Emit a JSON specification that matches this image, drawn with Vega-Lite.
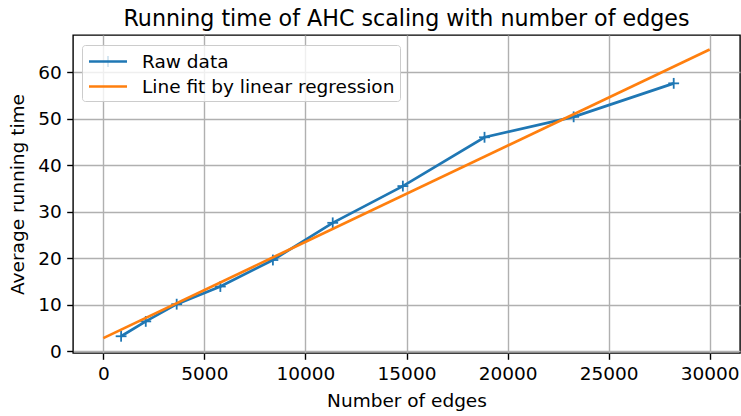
{
  "$schema": "https://vega.github.io/schema/vega-lite/v6.json",
  "width": 667,
  "height": 318,
  "autosize": {"type": "none"},
  "padding": {"left": 73, "top": 35, "right": 1, "bottom": 63},
  "background": "white",
  "title": {
    "text": "Running time of AHC scaling with number of edges",
    "font": "DejaVu Sans",
    "fontSize": 22.2,
    "fontWeight": "normal",
    "color": "black",
    "anchor": "middle",
    "offset": 5
  },
  "config": {
    "view": {"stroke": "black", "strokeWidth": 1.4},
    "axis": {
      "labelFont": "DejaVu Sans",
      "labelFontSize": 18.5,
      "labelColor": "black",
      "titleFont": "DejaVu Sans",
      "titleFontSize": 18.5,
      "titleFontWeight": "normal",
      "titleColor": "black",
      "domain": false,
      "tickColor": "black",
      "tickWidth": 1.4,
      "tickSize": 6.3,
      "labelPadding": 5.5,
      "gridColor": "#b0b0b0",
      "gridWidth": 1.4,
      "gridOpacity": 1
    },
    "legend": {
      "labelFont": "DejaVu Sans",
      "labelFontSize": 18.5,
      "labelColor": "black",
      "labelLimit": 500
    }
  },
  "data": {
    "values": [
      {"series": "Raw data", "edges": 880, "time": 3.2},
      {"series": "Raw data", "edges": 2100, "time": 6.4},
      {"series": "Raw data", "edges": 3630, "time": 10.1},
      {"series": "Raw data", "edges": 5790, "time": 13.9},
      {"series": "Raw data", "edges": 8390, "time": 19.6},
      {"series": "Raw data", "edges": 11350, "time": 27.6},
      {"series": "Raw data", "edges": 14820, "time": 35.5},
      {"series": "Raw data", "edges": 18860, "time": 46.0},
      {"series": "Raw data", "edges": 23270, "time": 50.4},
      {"series": "Raw data", "edges": 28220, "time": 57.6},
      {"series": "Line fit by linear regression", "edges": 0, "time": 2.8},
      {"series": "Line fit by linear regression", "edges": 30000, "time": 64.9}
    ]
  },
  "encoding": {
    "x": {
      "field": "edges",
      "type": "quantitative",
      "title": "Number of edges",
      "scale": {"domain": [-1500, 31500], "nice": false, "zero": false},
      "axis": {"values": [0, 5000, 10000, 15000, 20000, 25000, 30000], "format": "d", "titlePadding": 8}
    },
    "y": {
      "field": "time",
      "type": "quantitative",
      "title": "Average running time",
      "scale": {"domain": [-0.4, 68.0], "nice": false, "zero": false},
      "axis": {"values": [0, 10, 20, 30, 40, 50, 60], "titlePadding": 10}
    }
  },
  "layer": [
    {
      "transform": [{"filter": "datum.series === 'Raw data'"}],
      "mark": {"type": "line", "strokeWidth": 2.7, "color": "#1f77b4"},
      "encoding": {}
    },
    {
      "transform": [{"filter": "datum.series === 'Raw data'"}],
      "mark": {"type": "point", "shape": "M-1,0H1", "size": 117, "filled": false, "stroke": "#1f77b4", "strokeWidth": 1.8, "opacity": 1},
      "encoding": {}
    },
    {
      "transform": [{"filter": "datum.series === 'Raw data'"}],
      "mark": {"type": "point", "size": 117, "filled": false, "stroke": "#1f77b4", "strokeWidth": 1.8, "opacity": 1},
      "encoding": {
        "shape": {
          "field": "series",
          "type": "nominal",
          "scale": {"domain": ["Raw data"], "range": ["M0,-1V1"]},
          "legend": {
            "title": null,
            "orient": "none",
            "legendX": 28.5,
            "legendY": 20,
            "padding": 0,
            "fillColor": null,
            "strokeColor": null,
            "labelExpr": "''",
            "labelFontSize": 1,
            "labelOffset": 0,
            "symbolSize": 117,
            "symbolOffset": 0,
            "symbolStrokeColor": "#1f77b4",
            "symbolStrokeWidth": 1.8,
            "symbolFillColor": "transparent",
            "symbolOpacity": 1
          }
        }
      }
    },
    {
      "mark": {"type": "line", "strokeWidth": 2.7},
      "encoding": {
        "color": {
          "field": "series",
          "type": "nominal",
          "scale": {"domain": ["Raw data", "Line fit by linear regression"], "range": ["#1f77b4", "#ff7f0e"]},
          "legend": {
            "title": null,
            "orient": "none",
            "legendX": 9,
            "legendY": 10,
            "padding": 5,
            "fillColor": "rgba(255,255,255,0.8)",
            "strokeColor": "#cccccc",
            "cornerRadius": 3,
            "symbolType": "M-1.9,0H1.9",
            "symbolSize": 400,
            "symbolStrokeWidth": 2.7,
            "symbolOffset": 9.5,
            "labelOffset": 22.5,
            "rowPadding": 4
          }
        },
        "opacity": {"condition": {"test": "datum.series === 'Raw data'", "value": 0}, "value": 1}
      }
    }
  ]
}
